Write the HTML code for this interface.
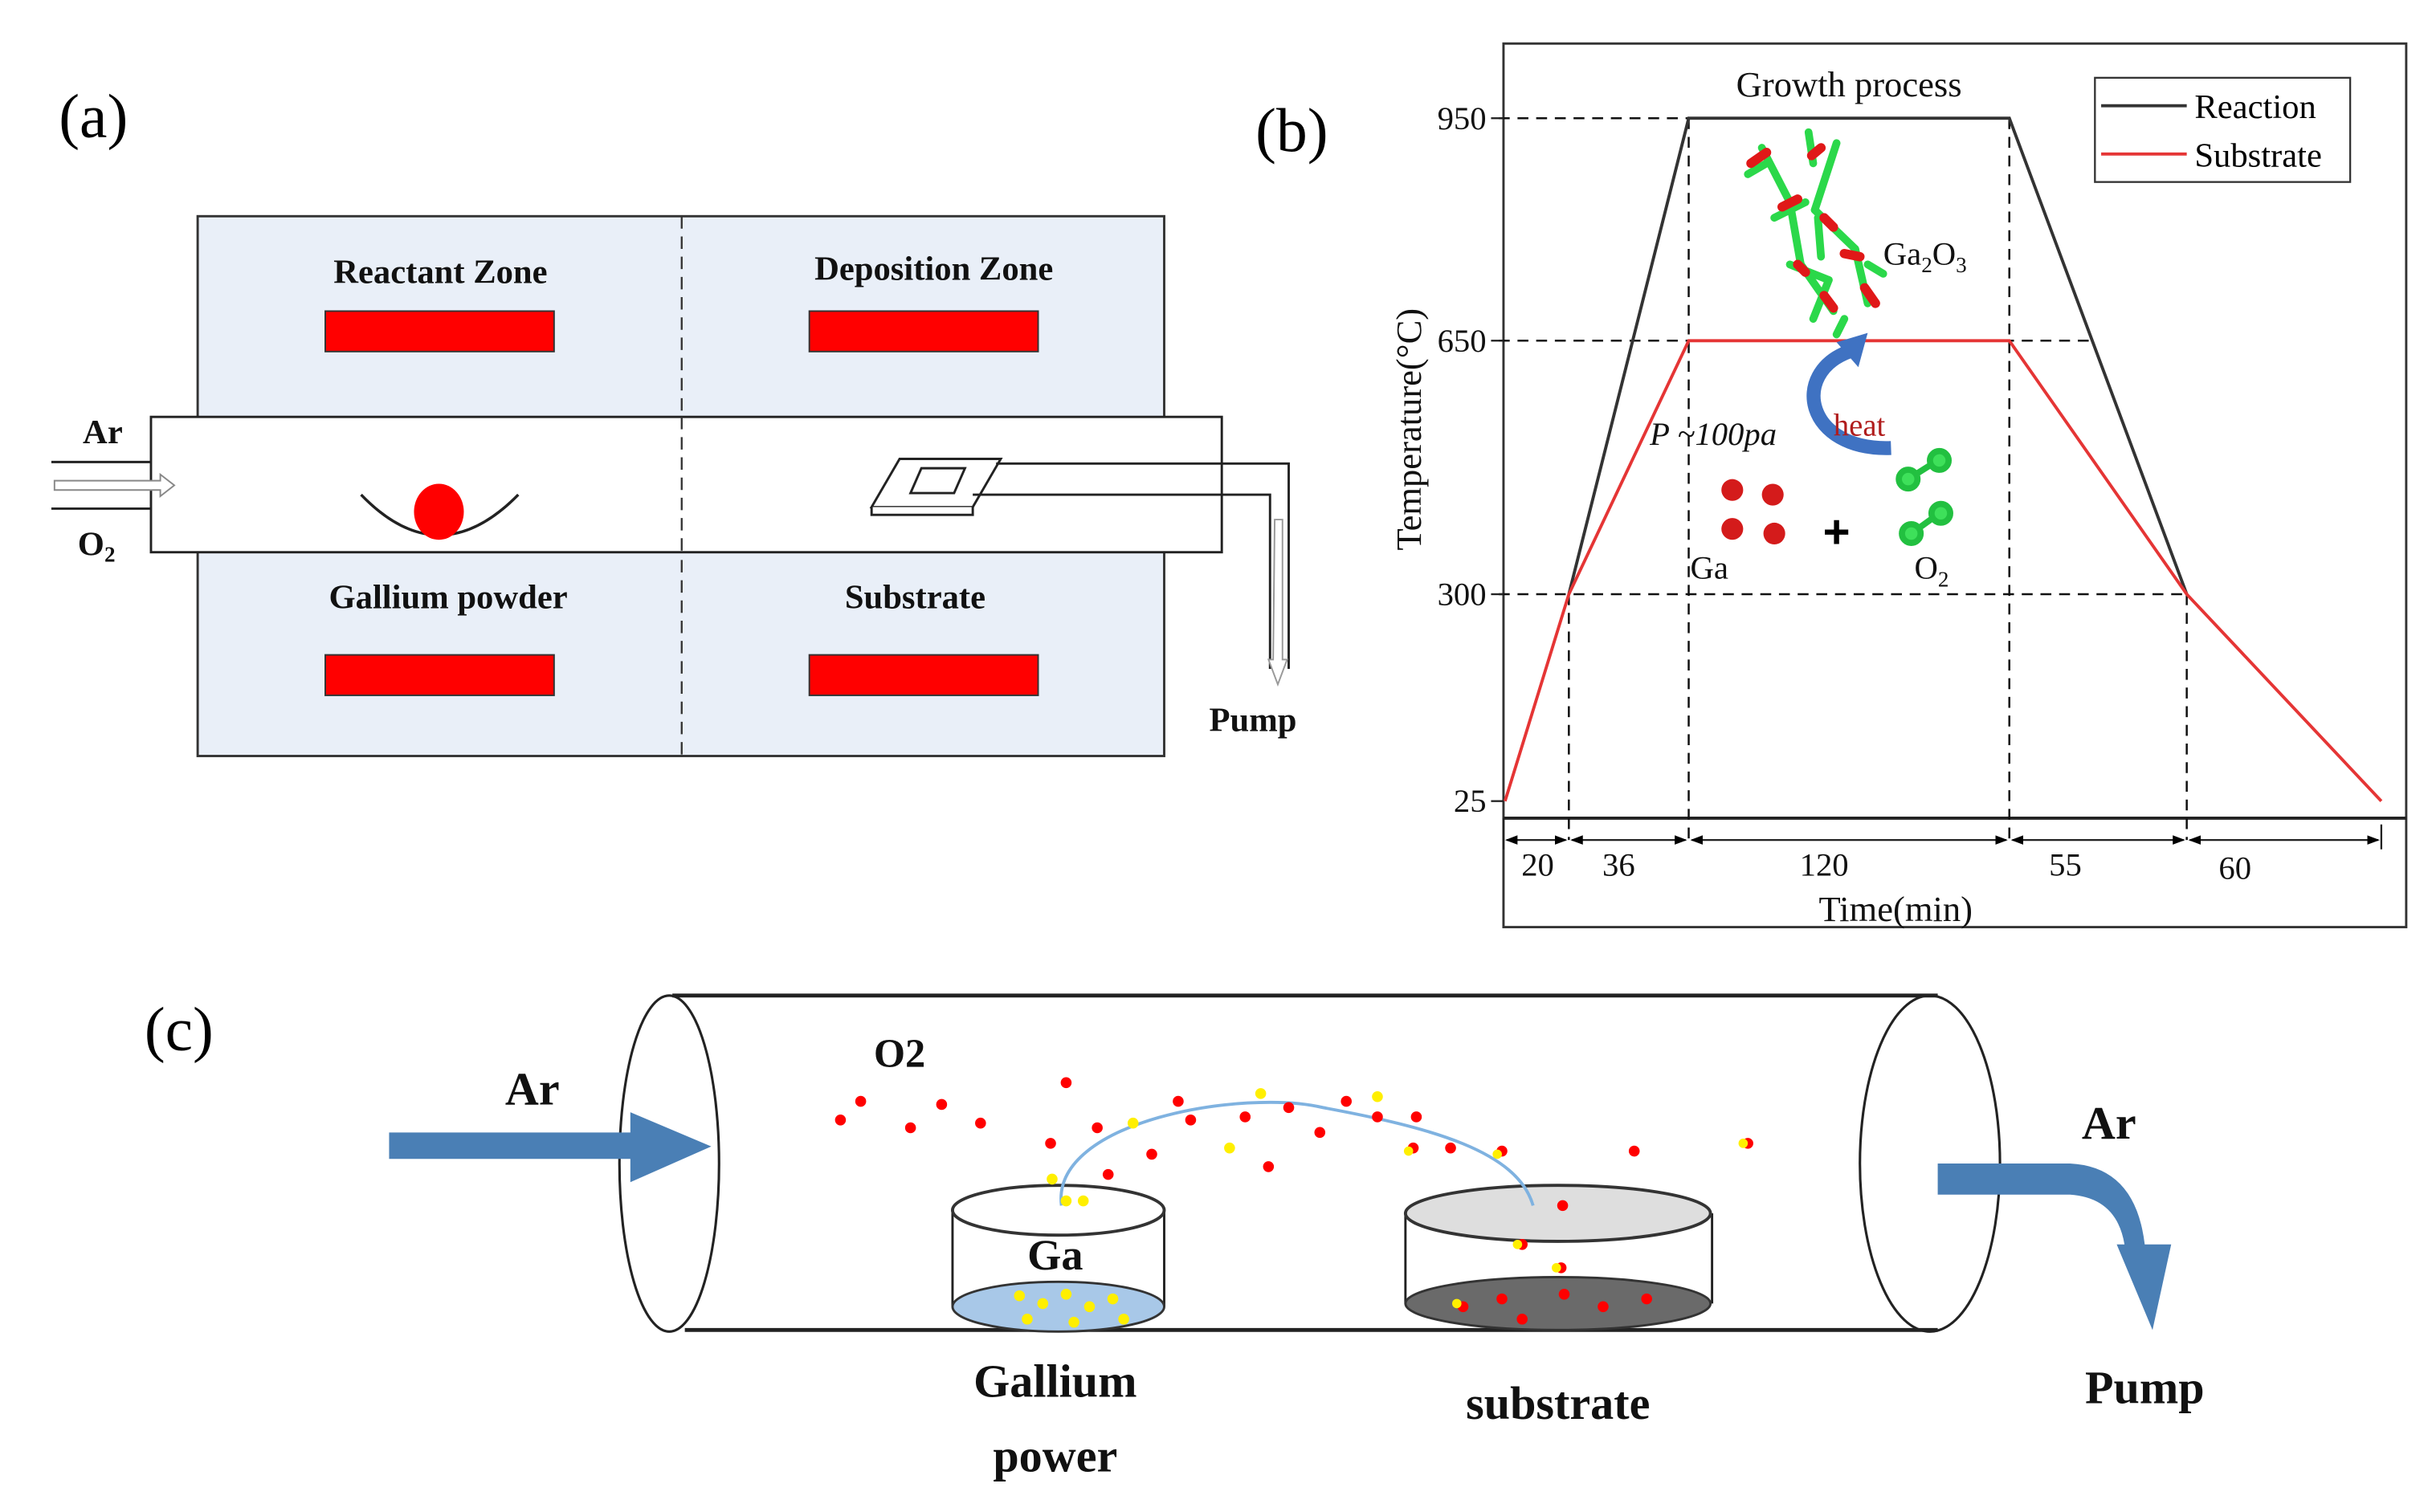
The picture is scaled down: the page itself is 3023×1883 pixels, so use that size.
<!DOCTYPE html>
<html><head><meta charset="utf-8">
<style>html,body{margin:0;padding:0;background:#fff}svg{display:block}</style>
</head><body>
<svg width="3023" height="1883" viewBox="0 0 1560 972" preserveAspectRatio="none" xmlns="http://www.w3.org/2000/svg" font-family="Liberation Serif, serif">
<defs>
<marker id="ar" markerWidth="8" markerHeight="8" refX="7" refY="4" orient="auto" markerUnits="userSpaceOnUse"><path d="M0,1 L8,4 L0,7 Z" fill="#000"/></marker>
<marker id="al" markerWidth="8" markerHeight="8" refX="1" refY="4" orient="auto" markerUnits="userSpaceOnUse"><path d="M8,1 L0,4 L8,7 Z" fill="#000"/></marker>
</defs>
<!-- (a) -->
<text x="60" y="88" font-size="40" text-anchor="middle">(a)</text>
<rect x="127" y="139" width="621" height="347" fill="#e9eff8" stroke="#333" stroke-width="1.5"/>
<line x1="438" y1="139" x2="438" y2="486" stroke="#333" stroke-width="1.2" stroke-dasharray="8,5"/>
<rect x="97" y="268" width="688" height="87" fill="#fff" stroke="#222" stroke-width="1.5"/>
<line x1="438" y1="268" x2="438" y2="355" stroke="#333" stroke-width="1.2" stroke-dasharray="8,5"/>
<g font-weight="bold" font-size="22" text-anchor="middle" fill="#111">
<text x="283" y="182">Reactant Zone</text>
<text x="600" y="180">Deposition Zone</text>
<text x="288" y="391">Gallium powder</text>
<text x="588" y="391">Substrate</text>
<text x="66" y="285">Ar</text>
<text x="62" y="357">O<tspan font-size="14" dy="4">2</tspan></text>
<text x="805" y="470">Pump</text>
</g>
<rect x="209" y="200" width="147" height="26" fill="#f00" stroke="#333"/>
<rect x="520" y="200" width="147" height="26" fill="#f00" stroke="#333"/>
<rect x="209" y="421" width="147" height="26" fill="#f00" stroke="#333"/>
<rect x="520" y="421" width="147" height="26" fill="#f00" stroke="#333"/>
<line x1="33" y1="297" x2="97" y2="297" stroke="#222" stroke-width="1.5"/>
<line x1="33" y1="327" x2="97" y2="327" stroke="#222" stroke-width="1.5"/>
<path d="M35,309 L103,309 L103,305 L112,312 L103,319 L103,315 L35,315 Z" fill="#fff" stroke="#888"/>
<path d="M232,318 Q282,370 333,318" fill="none" stroke="#222" stroke-width="1.8"/>
<ellipse cx="282" cy="329" rx="16" ry="18" fill="#f00"/>
<path d="M560,326 L578,295 L643,295 L625,326 Z" fill="#fff" stroke="#222" stroke-width="1.5"/>
<path d="M560,326 L560,331 L625,331 L625,326" fill="#fff" stroke="#222" stroke-width="1.5"/>
<path d="M585,317 L592,301 L620,301 L613,317 Z" fill="#fff" stroke="#222" stroke-width="1.5"/>
<path d="M640,298 L828,298 L828,430 M625,318 L816,318 L816,430" fill="none" stroke="#222" stroke-width="1.5"/>
<path d="M819,334 L824,334 L824,424 L827,424 L821,440 L815,424 L818,424 Z" fill="#fff" stroke="#999"/>
<!-- (b) -->
<text x="830" y="97" font-size="40" text-anchor="middle">(b)</text>
<rect x="966" y="28" width="580" height="568" fill="none" stroke="#333" stroke-width="1.5"/>
<line x1="966" y1="526" x2="1546" y2="526" stroke="#222" stroke-width="2"/>
<g stroke="#111" stroke-width="1.3" stroke-dasharray="7,5" fill="none">
<line x1="963" y1="76" x2="1291" y2="76"/>
<line x1="963" y1="219" x2="1345" y2="219"/>
<line x1="963" y1="382" x2="1405" y2="382"/>
<line x1="1008" y1="382" x2="1008" y2="540"/>
<line x1="1085" y1="76" x2="1085" y2="540"/>
<line x1="1291" y1="76" x2="1291" y2="540"/>
<line x1="1405" y1="382" x2="1405" y2="540"/>
</g>
<g stroke="#222" stroke-width="1.2">
<line x1="958" y1="76" x2="966" y2="76"/><line x1="958" y1="219" x2="966" y2="219"/><line x1="958" y1="382" x2="966" y2="382"/><line x1="958" y1="515" x2="966" y2="515"/>
<line x1="966" y1="526" x2="966" y2="546"/><line x1="1530" y1="530" x2="1530" y2="546"/>
<line x1="968" y1="540" x2="1006" y2="540" marker-start="url(#al)" marker-end="url(#ar)"/>
<line x1="1010" y1="540" x2="1083" y2="540" marker-start="url(#al)" marker-end="url(#ar)"/>
<line x1="1087" y1="540" x2="1289" y2="540" marker-start="url(#al)" marker-end="url(#ar)"/>
<line x1="1293" y1="540" x2="1403" y2="540" marker-start="url(#al)" marker-end="url(#ar)"/>
<line x1="1407" y1="540" x2="1528" y2="540" marker-start="url(#al)" marker-end="url(#ar)"/>
</g>
<polyline points="1008,382 1085,76 1291,76 1405,382" fill="none" stroke="#333" stroke-width="2"/>
<polyline points="967,515 1008,382 1085,219 1291,219 1405,382 1530,515" fill="none" stroke="#e53535" stroke-width="2"/>
<g font-size="21" fill="#111">
<text x="955" y="83" text-anchor="end">950</text>
<text x="955" y="226" text-anchor="end">650</text>
<text x="955" y="389" text-anchor="end">300</text>
<text x="955" y="522" text-anchor="end">25</text>
<text x="988" y="563" text-anchor="middle">20</text>
<text x="1040" y="563" text-anchor="middle">36</text>
<text x="1172" y="563" text-anchor="middle">120</text>
<text x="1327" y="563" text-anchor="middle">55</text>
<text x="1436" y="565" text-anchor="middle">60</text>
<text x="1218" y="592" text-anchor="middle" font-size="23">Time(min)</text>
<text x="1188" y="62" text-anchor="middle" font-size="23">Growth process</text>
<text transform="translate(913,276) rotate(-90)" text-anchor="middle" font-size="23">Temperature(°C)</text>
<text x="1210" y="170">Ga<tspan font-size="14" dy="5">2</tspan><tspan dy="-5">O</tspan><tspan font-size="14" dy="5">3</tspan></text>
<text x="1060" y="286" font-style="italic">P ~100pa</text>
<text x="1086" y="372">Ga</text>
<text x="1230" y="372">O<tspan font-size="14" dy="5">2</tspan></text>
</g>
<rect x="1346" y="50" width="164" height="67" fill="#fff" stroke="#333" stroke-width="1.2"/>
<line x1="1350" y1="68" x2="1405" y2="68" stroke="#333" stroke-width="2"/>
<line x1="1350" y1="99" x2="1405" y2="99" stroke="#e53535" stroke-width="2"/>
<text x="1410" y="76" font-size="22">Reaction</text>
<text x="1410" y="107" font-size="22">Substrate</text>
<!-- molecule -->
<g stroke-linecap="round">
<g stroke="#2bd84a" stroke-width="5">
<line x1="1132" y1="95" x2="1150" y2="130"/><line x1="1150" y1="130" x2="1157" y2="170"/><line x1="1157" y1="170" x2="1178" y2="200"/>
<line x1="1180" y1="92" x2="1166" y2="135"/><line x1="1166" y1="135" x2="1192" y2="160"/><line x1="1192" y1="160" x2="1200" y2="195"/>
<line x1="1162" y1="85" x2="1165" y2="105"/><line x1="1140" y1="140" x2="1160" y2="130"/><line x1="1150" y1="170" x2="1175" y2="180"/>
<line x1="1175" y1="180" x2="1165" y2="205"/><line x1="1185" y1="205" x2="1180" y2="215"/><line x1="1200" y1="170" x2="1210" y2="176"/>
<line x1="1123" y1="112" x2="1135" y2="105"/><line x1="1168" y1="140" x2="1170" y2="165"/>
</g>
<g stroke="#e01818" stroke-width="6">
<line x1="1125" y1="105" x2="1135" y2="98"/><line x1="1145" y1="133" x2="1155" y2="128"/><line x1="1164" y1="100" x2="1170" y2="95"/>
<line x1="1172" y1="140" x2="1178" y2="146"/><line x1="1155" y1="170" x2="1160" y2="175"/><line x1="1185" y1="163" x2="1195" y2="165"/>
<line x1="1172" y1="190" x2="1178" y2="198"/><line x1="1198" y1="185" x2="1205" y2="195"/>
</g>
</g>
<path d="M1215,288 C1160,290 1150,240 1188,226" fill="none" stroke="#3f72c2" stroke-width="9"/>
<path d="M1180,220 L1200,214 L1194,236 Z" fill="#3f72c2"/>
<text x="1178" y="280" font-size="20" fill="#b01c1c">heat</text>
<g fill="#d41b1b"><circle cx="1113" cy="315" r="7"/><circle cx="1139" cy="318" r="7"/><circle cx="1113" cy="340" r="7"/><circle cx="1140" cy="343" r="7"/></g>
<text x="1180" y="352" font-size="30" font-weight="bold" text-anchor="middle" font-family="Liberation Sans, sans-serif">+</text>
<g stroke="#22c040" stroke-width="4" fill="#3ee05a"><line x1="1226" y1="308" x2="1245" y2="296"/><circle cx="1226" cy="308" r="6"/><circle cx="1246" cy="296" r="6"/>
<line x1="1228" y1="343" x2="1246" y2="330"/><circle cx="1228" cy="343" r="6"/><circle cx="1247" cy="330" r="6"/></g>
<!-- (c) -->
<text x="115" y="675" font-size="40" text-anchor="middle">(c)</text>
<line x1="432" y1="640" x2="1245" y2="640" stroke="#222" stroke-width="2.5"/>
<line x1="440" y1="855" x2="1245" y2="855" stroke="#222" stroke-width="2.5"/>
<ellipse cx="430" cy="748" rx="32" ry="108" fill="none" stroke="#222" stroke-width="1.6"/>
<ellipse cx="1240" cy="748" rx="45" ry="108" fill="none" stroke="#222" stroke-width="1.6"/>
<path d="M250,728 L405,728 L405,715 L457,737 L405,760 L405,745 L250,745 Z" fill="#4a7fb5"/>
<path d="M1245,748 L1330,748 Q1372,750 1378,800 L1395,800 L1383,855 L1360,800 L1365,800 Q1360,770 1330,768 L1245,768 Z" fill="#4a7fb5"/>
<g font-weight="bold" font-size="30" fill="#111" text-anchor="middle">
<text x="342" y="710">Ar</text>
<text x="1355" y="732">Ar</text>
<text x="1378" y="902">Pump</text>
<text x="578" y="686" font-size="26">O2</text>
<text x="678" y="816" font-size="28">Ga</text>
<text x="678" y="898">Gallium</text>
<text x="678" y="946">power</text>
<text x="1001" y="912">substrate</text>
</g>
<!-- cups -->
<line x1="612" y1="778" x2="612" y2="840" stroke="#222" stroke-width="1.5"/>
<line x1="748" y1="778" x2="748" y2="840" stroke="#222" stroke-width="1.5"/>
<ellipse cx="680" cy="840" rx="68" ry="16" fill="#a8c8e8" stroke="#333" stroke-width="1.5"/>
<ellipse cx="680" cy="778" rx="68" ry="16" fill="#fff" stroke="#333" stroke-width="2"/>
<line x1="903" y1="780" x2="903" y2="838" stroke="#222" stroke-width="1.5"/>
<line x1="1100" y1="780" x2="1100" y2="838" stroke="#222" stroke-width="1.5"/>
<ellipse cx="1001" cy="838" rx="98" ry="17" fill="#6a6a6a" stroke="#333" stroke-width="1.5"/>
<ellipse cx="1001" cy="780" rx="98" ry="18" fill="#dedede" stroke="#333" stroke-width="2"/>
<path d="M682,775 C675,720 800,700 850,712 C920,725 975,740 985,775" fill="none" stroke="#7fb2e0" stroke-width="2"/>
<g fill="#f00">
<circle cx="553" cy="708" r="3.5"/><circle cx="540" cy="720" r="3.5"/><circle cx="585" cy="725" r="3.5"/><circle cx="605" cy="710" r="3.5"/><circle cx="630" cy="722" r="3.5"/><circle cx="685" cy="696" r="3.5"/><circle cx="675" cy="735" r="3.5"/><circle cx="705" cy="725" r="3.5"/><circle cx="712" cy="755" r="3.5"/><circle cx="740" cy="742" r="3.5"/><circle cx="757" cy="708" r="3.5"/><circle cx="765" cy="720" r="3.5"/><circle cx="800" cy="718" r="3.5"/><circle cx="828" cy="712" r="3.5"/><circle cx="848" cy="728" r="3.5"/><circle cx="865" cy="708" r="3.5"/><circle cx="885" cy="718" r="3.5"/><circle cx="910" cy="718" r="3.5"/><circle cx="908" cy="738" r="3.5"/><circle cx="932" cy="738" r="3.5"/><circle cx="965" cy="740" r="3.5"/><circle cx="815" cy="750" r="3.5"/><circle cx="1050" cy="740" r="3.5"/><circle cx="1123" cy="735" r="3.5"/><circle cx="1004" cy="775" r="3.5"/><circle cx="978" cy="800" r="3.5"/><circle cx="1003" cy="815" r="3.5"/><circle cx="940" cy="840" r="3.5"/><circle cx="965" cy="835" r="3.5"/><circle cx="1005" cy="832" r="3.5"/><circle cx="1030" cy="840" r="3.5"/><circle cx="1058" cy="835" r="3.5"/><circle cx="978" cy="848" r="3.5"/>
</g>
<g fill="#ffef00">
<circle cx="810" cy="703" r="3.5"/><circle cx="728" cy="722" r="3.5"/><circle cx="790" cy="738" r="3.5"/><circle cx="885" cy="705" r="3.5"/><circle cx="676" cy="758" r="3.5"/><circle cx="685" cy="772" r="3.5"/><circle cx="696" cy="772" r="3.5"/><circle cx="655" cy="833" r="3.5"/><circle cx="670" cy="838" r="3.5"/><circle cx="685" cy="832" r="3.5"/><circle cx="700" cy="840" r="3.5"/><circle cx="715" cy="835" r="3.5"/><circle cx="660" cy="848" r="3.5"/><circle cx="690" cy="850" r="3.5"/><circle cx="722" cy="848" r="3.5"/><circle cx="975" cy="800" r="3"/><circle cx="936" cy="838" r="3"/><circle cx="1000" cy="815" r="3"/><circle cx="1120" cy="735" r="3"/><circle cx="962" cy="742" r="3"/><circle cx="905" cy="740" r="3"/>
</g>
</svg>
</body></html>
